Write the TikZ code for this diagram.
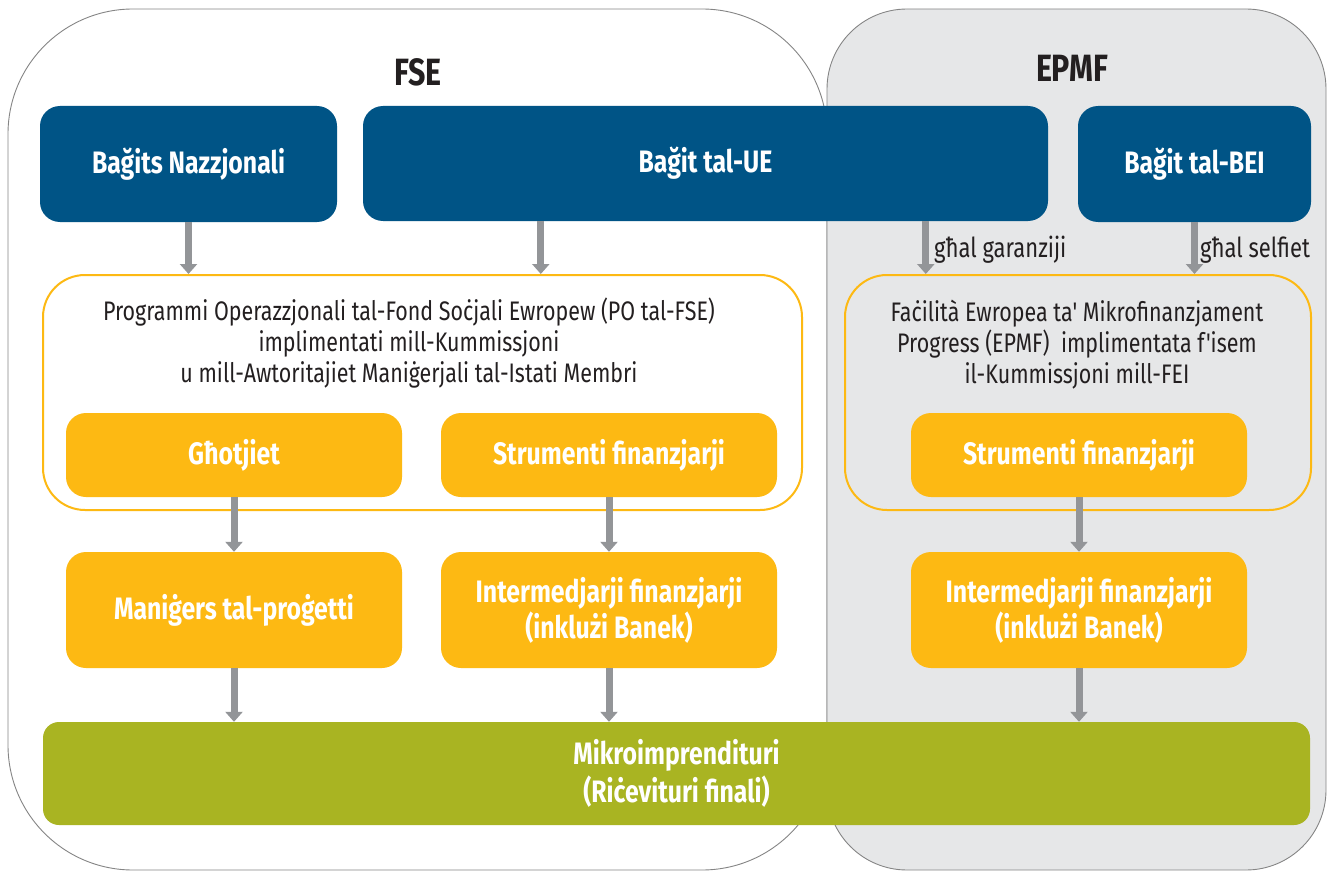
\documentclass[tikz,border=0pt]{standalone}
\usepackage{fontspec}
\setmainfont{Fira Sans}[FakeStretch=0.8,Ligatures=TeXOff]
\usetikzlibrary{arrows.meta,calc}
\definecolor{eublue}{HTML}{005486}
\definecolor{eyellow}{HTML}{FDB913}
\definecolor{egreen}{HTML}{A9B422}
\definecolor{arrgray}{HTML}{939598}
\definecolor{txtdark}{HTML}{231F20}
\definecolor{panelgray}{HTML}{E6E7E8}
\definecolor{framegray}{HTML}{858585}
\tikzset{
  bluebox/.style={fill=eublue, rounded corners=20pt, inner sep=0pt, text=white,
    font=\fontsize{31}{34}\selectfont\bfseries, align=center},
  orangebox/.style={fill=eyellow, rounded corners=20pt, inner sep=0pt, text=white,
    font=\fontsize{31}{36}\selectfont\bfseries, align=center,
    minimum width=336pt},
  greenbox/.style={fill=egreen, rounded corners=16pt, inner sep=0pt, text=white,
    font=\fontsize{31}{38}\selectfont\bfseries, align=center},
  outlinebox/.style={draw=eyellow, line width=2pt, rounded corners=42pt, inner sep=0pt},
  bodytext/.style={text=txtdark, font=\fontsize{26.8}{31}\selectfont, align=center, inner sep=0pt},
  labeltext/.style={text=txtdark, font=\fontsize{27.5}{30}\selectfont, inner sep=0pt},
  titletext/.style={text=txtdark, font=\fontsize{38}{40}\selectfont\bfseries, inner sep=0pt},
  flow/.style={draw=arrgray, line width=7pt, -{Triangle[width=17pt,length=10pt]}},
  frame/.style={draw=framegray, line width=0.9pt}
}
\begin{document}
\begin{tikzpicture}[x=1pt,y=-1pt]
\useasboundingbox (0,0) rectangle (1334,872);
% outer panels
\draw[frame, fill=white, rounded corners=125pt] (8,9) rectangle (827,870);
\draw[frame, fill=panelgray, rounded corners=80pt] (827,9) rectangle (1326,870);
% titles
\node[titletext] (tfse) at (418,72) {FSE};
\node[titletext] (tepmf) at (1072,68) {EPMF};
% budgets
\node[bluebox, minimum width=297pt, minimum height=116pt] (nat) at (188.5,164) {Bağits Nazzjonali};
\node[bluebox, minimum width=685pt, minimum height=115pt] (ue) at (705.5,163.5) {Bağit tal-UE};
\node[bluebox, minimum width=233pt, minimum height=116pt] (bei) at (1194.5,164) {Bağit tal-BEI};
% programme outlines
\node[outlinebox, minimum width=759pt, minimum height=235pt] (po) at (422.5,392.5) {};
\node[outlinebox, minimum width=466pt, minimum height=235pt] (ep) at (1078,392.5) {};
\node[bodytext] (potext) at (409,343) {Programmi Operazzjonali tal-Fond Soċjali Ewropew (PO tal-FSE)\\implimentati mill-Kummissjoni\\u mill-Awtoritajiet Maniġerjali tal-Istati Membri};
\node[bodytext] (eptext) at (1077,345) {Faċilità Ewropea ta' Mikrofinanzjament\\Progress (EPMF)\ \ implimentata f'isem\\il-Kummissjoni mill-FEI};
% instruments
\node[orangebox, minimum height=84pt] (gh) at (234,455) {Għotjiet};
\node[orangebox, minimum height=84pt] (sf1) at (609,455) {Strumenti finanzjarji};
\node[orangebox, minimum height=84pt] (sf2) at (1079,455) {Strumenti finanzjarji};
% intermediaries
\node[orangebox, minimum height=116pt] (man) at (234,610) {Maniġers tal-proġetti};
\node[orangebox, minimum height=116pt] (int1) at (609,610) {Intermedjarji finanzjarji\\(inklużi Banek)};
\node[orangebox, minimum height=116pt] (int2) at (1079,610) {Intermedjarji finanzjarji\\(inklużi Banek)};
% final recipients
\node[greenbox, minimum width=1267pt, minimum height=103pt] (mik) at (676.5,773.5) {Mikroimprendituri\\(Riċevituri finali)};
% connectors
\coordinate (ueA) at ($(ue.south west)+(178,0)$);
\coordinate (ueB) at ($(ue.south west)+(563,0)$);
\draw[flow] (nat.south) -- (nat.south |- po.north);
\draw[flow] (ueA) -- (ueA |- po.north);
\draw[flow] (ueB) -- (ueB |- ep.north);
\draw[flow] (bei.south) -- (bei.south |- ep.north);
\draw[flow] (gh.south) -- (man.north);
\draw[flow] (sf1.south) -- (int1.north);
\draw[flow] (sf2.south) -- (int2.north);
\draw[flow] (man.south) -- (man.south |- mik.north);
\draw[flow] (int1.south) -- (int1.south |- mik.north);
\draw[flow] (int2.south) -- (int2.south |- mik.north);
% labels
\node[labeltext, anchor=base west] (lgar) at (934,257) {għal garanziji};
\node[labeltext, anchor=base west] (lself) at (1200,257) {għal selfiet};
\end{tikzpicture}
\end{document}
